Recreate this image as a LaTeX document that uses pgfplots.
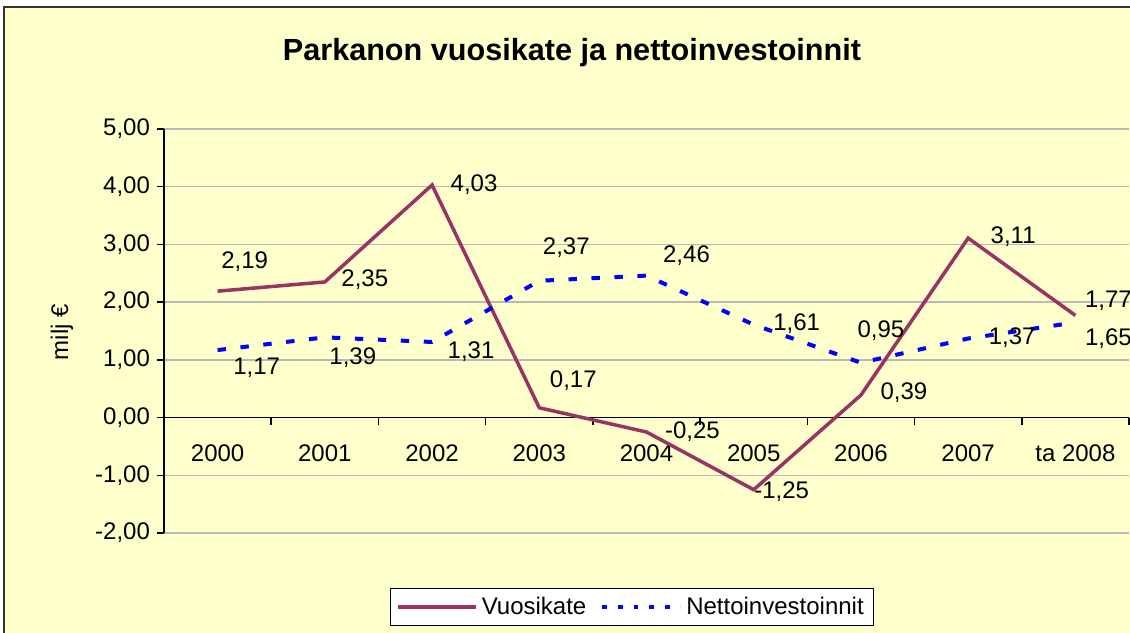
\documentclass[border=0pt]{standalone}
\usepackage{pgfplots}
\pgfplotsset{compat=1.18}
\usepackage{fontspec}
\setmainfont{Liberation Sans}
\definecolor{bgyellow}{HTML}{FFFFCC}
\definecolor{vuosi}{HTML}{993366}
\definecolor{netto}{HTML}{0000FF}
\pgfplotstableread{
x y lab dx dy
0 2.19 2,19 13.5 15
1 2.35 2,35 20 1
2 4.03 4,03 21 0
3 0.17 0,17 17 13.5
4 -0.25 -0,25 23 0
5 -1.25 -1,25 14 -1
6 0.39 0,39 21.5 1
7 3.11 3,11 22.5 0.5
8 1.77 1,77 16.5 7.5
}\vuosi
\pgfplotstableread{
x y lab dx dy
0 1.17 1,17 19.5 -9
1 1.39 1,39 14 -10
2 1.31 1,31 19.5 -5
3 2.37 2,37 13.5 16.5
4 2.46 2,46 20 10
5 1.61 1,61 21.5 0.5
6 0.95 0,95 10 16
7 1.37 1,37 22 0.5
8 1.65 1,65 16.5 -8
}\netto
\begin{document}
\begin{tikzpicture}
\useasboundingbox (-82pt,-49.5pt) rectangle (483pt,266.5pt);
\fill[white] (-82pt,-49.5pt) rectangle (483pt,266.5pt);
\filldraw[fill=bgyellow, draw=black!80, line width=1pt] (-80pt,-60pt) rectangle (495pt,263pt);
\begin{axis}[
  scale only axis, width=482.5pt, height=202pt,
  at={(0pt,0pt)}, anchor=south west,
  xmin=-0.5, xmax=8.5, ymin=-2, ymax=5,
  axis x line=middle, axis y line=left,
  axis line style={-, black, line width=0.75pt},
  xtick={0,...,8},
  xticklabels={2000,2001,2002,2003,2004,2005,2006,2007,ta 2008},
  x tick label style={yshift=-6.5pt},
  minor xtick={-0.5,0.5,...,8.5},
  major x tick style={draw=none},
  minor x tick style={black, line width=0.75pt},
  minor tick length=3.5pt, major tick length=3.5pt,
  tick align=outside,
  ytick={-2,...,5},
  yticklabels={{-2,00},{-1,00},{0,00},{1,00},{2,00},{3,00},{4,00},{5,00}},
  ymajorgrids, major grid style={gray!55, line width=0.75pt},
  y tick style={black, line width=0.75pt},
  tick label style={font=\fontsize{12}{14}\selectfont},
  clip=false,
  legend style={at={(axis description cs:0.485,-0.183)}, anchor=center, legend columns=2, draw=black, line width=0.5pt, fill=white, font=\fontsize{12}{14}\selectfont, /tikz/every even column/.append style={column sep=5pt}},
  legend image code/.code={\draw[#1] (0pt,0pt) -- (39pt,0pt);},
  nodes near coords style={anchor=center, text=black, font=\fontsize{12}{14}\selectfont, xshift=\dx pt, yshift=\dy pt},
]
\addplot[color=vuosi, line width=1.75pt, mark=none, nodes near coords, point meta=explicit symbolic,
  visualization depends on={\thisrow{dx}\as\dx},
  visualization depends on={\thisrow{dy}\as\dy}]
  table[x=x, y=y, meta=lab] {\vuosi};
\addlegendentry{Vuosikate}
\addplot[color=netto, line width=2pt, dash pattern=on 4.2pt off 7.3pt, mark=none, nodes near coords, point meta=explicit symbolic,
  visualization depends on={\thisrow{dx}\as\dx},
  visualization depends on={\thisrow{dy}\as\dy},
  legend image post style={dash pattern=on 2.4pt off 5.4pt}]
  table[x=x, y=y, meta=lab] {\netto};
\addlegendentry{Nettoinvestoinnit}
\node[anchor=base, font=\bfseries\fontsize{15.3}{18}\selectfont] at (axis description cs:0.4228,1.1708) {Parkanon vuosikate ja nettoinvestoinnit};
\node[anchor=center, rotate=90, font=\fontsize{12}{14}\selectfont] at (axis description cs:-0.1057,0.4975) {milj €};
\end{axis}
\end{tikzpicture}
\end{document}
